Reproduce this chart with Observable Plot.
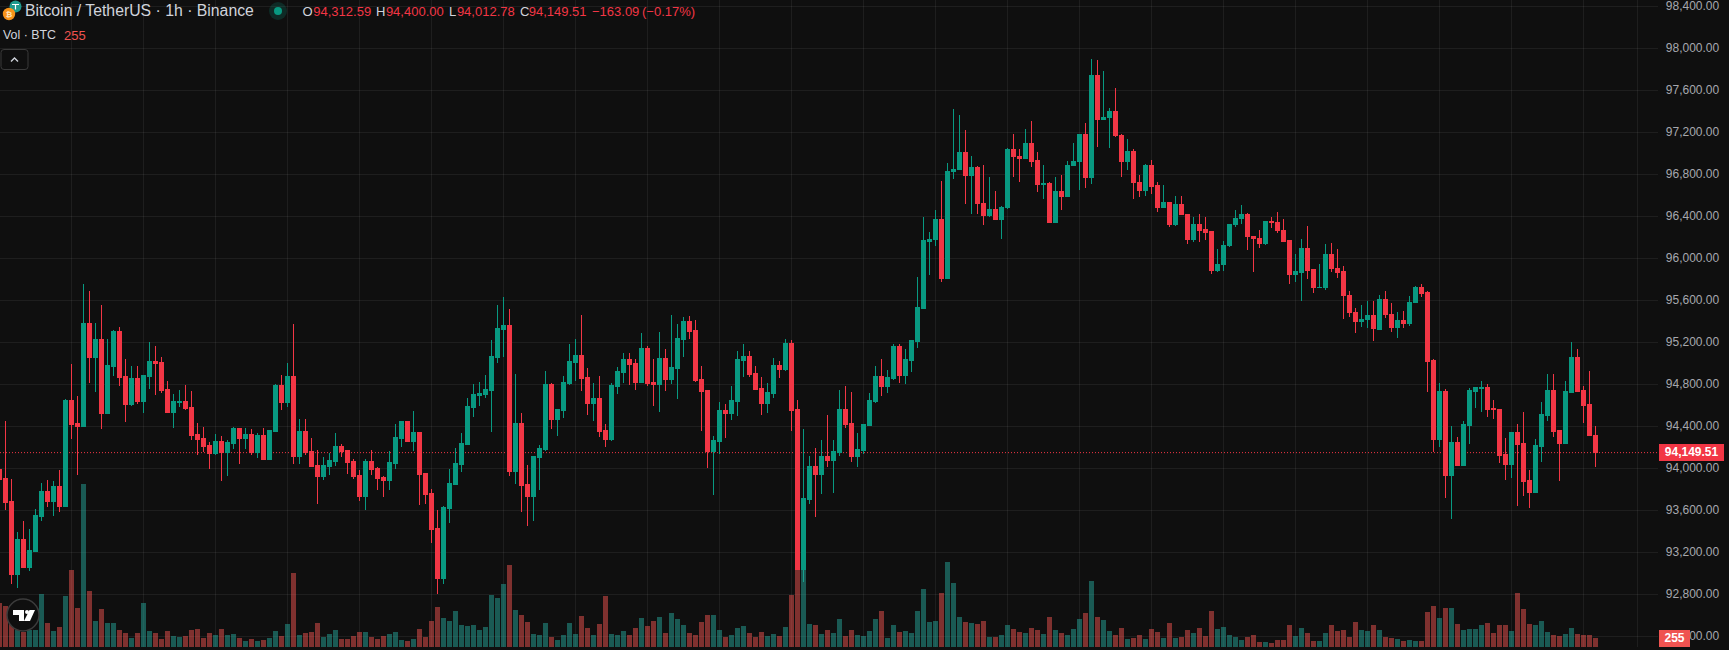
<!DOCTYPE html>
<html><head><meta charset="utf-8">
<script src="https://cdn.jsdelivr.net/npm/d3@7"></script>
<script src="https://cdn.jsdelivr.net/npm/@observablehq/plot@0.6"></script>
<style>
html,body{margin:0;padding:0;background:#0f0f0f;overflow:hidden}
#chart{position:relative;width:1729px;height:650px;background:#0f0f0f;font-family:"Liberation Sans",Arial,sans-serif;overflow:hidden}
#chart svg.plot{position:absolute;left:0;top:0}
.t{position:absolute;white-space:nowrap;line-height:1}
.tag{position:absolute;color:#fff;font-size:12px;font-weight:700;text-align:center}
</style></head><body><div id="chart"></div>
<script>
const opens=[93987,93901,93682,92987,93320,93053,93206,93539,93777,93682,93825,93634,94644,94425,94396,95378,95054,95225,94520,94968,
95301,94873,94606,94854,94635,94873,95016,95006,94749,94530,94625,94635,94577,94320,94282,94215,94139,94254,94149,94234,
94377,94282,94320,94149,94311,94082,94349,94787,94625,94873,94111,94349,94158,94025,93920,94016,94063,94206,94168,94063,
93930,93730,94063,93996,93911,93882,94044,94282,94444,94254,94339,93949,93758,93425,92949,93615,93844,94034,94225,94577,
94692,94701,94739,95054,95320,95358,93968,94425,93844,93730,94101,94177,94796,94463,94549,94806,95006,95073,94863,94616,
94663,94358,94273,94777,94911,95035,94997,94816,95139,94816,94797,95044,94844,94949,95225,95397,95311,94844,94739,94158,
94254,94549,94520,94635,95025,95063,94901,94758,94616,94711,94977,94939,95187,94558,93034,93701,94016,93939,94111,94073,
94149,94558,94425,94111,94168,94406,94635,94873,94777,94854,95158,94882,95025,95206,95517,96164,96174,96374,95803,96822,
96841,97012,96784,96869,96526,96403,96469,96365,96479,97041,96974,96946,97098,96936,96707,96717,96345,96641,96584,96879,
96917,97184,96765,97746,97317,97336,97403,97174,96917,97022,96726,96641,96888,96698,96488,96536,96326,96517,96422,96174,
96326,96279,96260,95888,95936,96117,96317,96374,96422,96212,96193,96136,96355,96345,96269,96174,95850,95869,96098,95898,
95717,95717,96041,95907,95879,95650,95488,95393,95412,95460,95317,95612,95469,95339,95412,95383,95574,95726,95679,95025,
94273,94730,93930,94244,94025,94406,94730,94758,94768,94568,94558,94130,94034,94339,94234,93882,93768,94206,94501,94739,
94358,94234,94720,95054,94739,94606,94312.59];
const highs=[94034,94454,93901,93396,93501,93425,93615,93863,93892,93882,93987,94663,94997,94692,95759,95692,95387,95559,95235,95320,
95349,95044,94977,94977,94882,95206,95168,95063,94835,94711,94749,94797,94739,94435,94396,94254,94330,94311,94273,94396,
94377,94387,94377,94339,94387,94368,94806,94892,95006,95378,94473,94473,94292,94177,94111,94149,94339,94234,94177,94092,
93987,94092,94177,94016,93930,94168,94425,94444,94444,94549,94339,93949,93806,93606,93644,93996,94196,94339,94673,94806,
94825,94892,95225,95559,95635,95520,94901,94530,94034,94120,94225,94930,94816,94558,94882,95187,95235,95463,94958,94816,
94882,94425,94816,94968,95101,95101,95044,95292,95168,95044,95301,95139,95463,95378,95444,95454,95416,94977,94739,94311,
94635,94616,94787,95120,95187,95120,94977,94873,94816,95054,95025,95235,95225,94654,94377,94120,94196,94273,94511,94273,
94749,94787,94730,94339,94415,94720,94977,95044,94939,95187,95187,95139,95216,95825,96393,96250,96460,96736,96907,97422,
97365,97222,96974,96879,96888,96774,96641,96498,97050,97184,97041,97231,97307,97012,96888,96726,96774,96793,96926,97098,
97184,97288,97898,97889,97784,97431,97622,97184,97136,97041,96793,96898,96936,96726,96698,96536,96593,96593,96422,96393,
96422,96393,96260,96088,96164,96326,96460,96507,96431,96212,96269,96355,96393,96441,96374,96174,96041,96184,96307,95898,
95945,96136,96145,96088,95926,95688,95526,95555,95593,95593,95650,95688,95574,95488,95498,95641,95736,95755,95688,95044,
94816,94758,94406,94301,94454,94768,94777,94835,94806,94654,94568,94292,94349,94425,94539,93987,94282,94635,94901,94901,
94368,94835,95206,95139,94787,94930,94400];
const lows=[93844,93606,92901,92863,93053,93025,93206,93501,93634,93549,93587,93634,94282,93939,94396,94816,94730,94377,94520,94882,
94787,94444,94596,94616,94530,94758,94701,94720,94530,94387,94587,94558,94273,94130,94158,93996,94130,93882,93930,94187,
94044,94187,94130,94101,94082,94082,94349,94558,94587,94044,94044,94130,94016,93663,93892,93939,94025,94111,93949,93901,
93692,93606,93939,93796,93730,93796,93996,94206,94254,94168,93654,93663,93292,92806,92901,93482,93844,93968,94225,94492,
94596,94673,94349,95006,95063,93930,93854,93587,93453,93501,93796,94168,94377,94311,94482,94797,94835,94739,94511,94454,
94301,94206,94263,94711,94816,94797,94749,94816,94787,94596,94539,94739,94806,94663,95063,95235,94825,94358,94006,93749,
94139,94292,94463,94501,94873,94873,94749,94511,94530,94673,94863,94930,94358,93034,92920,93663,93539,93758,94016,93768,
94120,94387,94063,94016,94139,94406,94625,94692,94720,94844,94816,94806,94920,95149,95517,95841,96117,95774,95803,96755,
96841,96517,96422,96422,96317,96393,96365,96184,96469,96774,96726,96946,96869,96631,96565,96345,96345,96460,96584,96879,
96650,96669,96707,97060,97317,97050,97155,96774,96841,96565,96584,96593,96612,96441,96488,96298,96307,96412,96136,96155,
96155,96174,95850,95869,95879,96107,96298,96326,96079,95869,96098,96126,96288,96241,96164,95755,95774,95593,95803,95669,
95717,95698,95869,95812,95422,95441,95288,95349,95333,95212,95317,95431,95301,95241,95333,95355,95574,95631,94730,94158,
94206,93720,93520,94025,94025,94234,94577,94539,94492,94473,94054,93892,93911,93644,93739,93625,93768,94063,94454,94301,
93882,94234,94720,94730,94435,94311,94012.78];
const closes=[93892,93676,92987,93320,93053,93215,93549,93777,93682,93825,93634,94644,94415,94396,95378,95054,95225,94520,94977,95301,
94863,94606,94854,94635,94882,95016,94997,94739,94530,94635,94635,94568,94311,94273,94206,94139,94254,94149,94244,94377,
94282,94320,94149,94311,94082,94358,94787,94625,94873,94111,94349,94149,94016,93920,94025,94073,94206,94158,94054,93920,
93730,94063,93987,93901,93882,94054,94292,94444,94254,94339,93939,93749,93415,92949,93625,93854,94044,94234,94587,94701,
94711,94749,95063,95330,95358,93968,94425,93834,93730,94111,94187,94796,94463,94558,94816,95016,95073,94854,94616,94663,
94349,94273,94787,94920,95035,94987,94816,95139,94806,94797,95044,94844,94958,95235,95397,95301,94835,94730,94158,94263,
94549,94520,94644,95035,95063,94892,94749,94616,94720,94977,94939,95187,94549,93034,93711,94016,93939,94111,94073,94158,
94558,94415,94111,94177,94415,94644,94873,94777,94863,95158,94882,95035,95216,95530,96174,96184,96374,95803,96831,96850,
97012,96784,96869,96517,96403,96469,96365,96488,97041,96965,96946,97098,96926,96698,96717,96345,96641,96584,96888,96926,
97184,96765,97746,97317,97346,97403,97165,96917,97022,96717,96641,96888,96688,96488,96536,96326,96517,96412,96174,96326,
96269,96250,95888,95945,96126,96326,96384,96422,96203,96184,96136,96355,96336,96260,96164,95850,95879,96098,95888,95717,
95726,96041,95898,95869,95641,95479,95393,95422,95460,95333,95612,95460,95339,95412,95374,95583,95726,95669,95019,94273,
94730,93930,94244,94025,94415,94739,94768,94768,94558,94558,94120,94034,94339,94225,93873,93768,94215,94511,94739,94349,
94234,94730,95054,94730,94596,94311,94149.51];
const volumes=[1246,1161,1095,481,434,481,481,1501,680,453,566,1444,2181,1104,4616,1586,736,1076,680,680,
481,396,255,396,1246,453,396,227,453,312,283,312,481,510,255,396,340,510,340,368,
255,170,227,170,198,255,453,312,651,2096,340,396,425,680,283,368,481,227,227,312,
425,425,283,227,312,368,425,198,170,227,510,283,736,1133,821,736,1020,623,595,623,
481,566,1473,1388,1784,2322,1048,906,708,368,340,680,283,198,340,680,368,878,538,340,
651,1444,368,340,453,340,538,821,595,736,850,396,963,793,623,396,340,708,906,906,
481,283,340,538,595,396,283,425,312,368,312,566,1473,2181,2181,651,623,368,481,396,
793,312,481,340,312,453,793,1020,255,623,425,453,396,1020,1643,708,736,1529,2407,1812,
850,708,680,651,736,283,283,340,623,510,425,396,538,481,368,850,481,396,340,510,
793,963,1869,850,765,453,340,538,227,255,340,227,510,425,255,680,255,283,481,396,
538,312,1020,510,566,340,283,198,283,340,142,142,113,198,198,623,312,538,396,170,
170,396,623,453,481,283,708,481,453,623,481,283,255,227,170,198,170,170,991,1161,
821,1104,1104,651,481,510,510,623,680,396,623,623,453,1529,1076,651,623,736,425,340,
312,368,538,368,340,340,255];
const priceTicks=[92400,92800,93200,93600,94000,94400,94800,95200,95600,96000,96400,96800,97200,97600,98000,98400];
const timeGridBars=[12,24,36,48,60,72,84,96,108,120,132,144,156,168,180,192,204,216,228,240,252,264,273];
const lastPrice=94149.51;
const title="Bitcoin / TetherUS · 1h · Binance";
const ohlcLabels=["O","H","L","C"];
const ohlcValues=["94,312.59","94,400.00","94,012.78","94,149.51"];
const changeText=["−163.09","(−0.17%)"];
const volumeLabel="Vol · BTC";

const RED="#f23645",GREEN="#089981",GRID="rgba(242,242,242,0.07)";
const candles=opens.map((o,i)=>({i,o,h:highs[i],l:lows[i],c:closes[i],v:volumes[i],col:closes[i]>=o?GREEN:RED,
  vcol:closes[i]>=o?"#26a69a":"#ef5350"}));
const W=1729,H=650,FR=1658;
const xOpt={domain:[1/12,FR/6+1/12],range:[0,FR],axis:null};
const priceFmt=d3.format(",.2f");

const price=Plot.plot({width:W,height:H,marginLeft:0,marginRight:W-FR,marginTop:0,marginBottom:3,
  style:{background:"transparent",fontFamily:'"Liberation Sans",Arial,sans-serif',fontSize:"12px"},
  x:xOpt,y:{domain:[92400,98400],range:[636.33,6.33],axis:null},
  marks:[
    Plot.ruleY(priceTicks,{stroke:GRID,strokeWidth:1,shapeRendering:"crispEdges",dy:-0.5}),
    Plot.ruleX(timeGridBars,{stroke:GRID,strokeWidth:1,shapeRendering:"crispEdges",dx:-0.5}),
    Plot.ruleY([lastPrice],{stroke:RED,strokeWidth:1,strokeDasharray:"1,2",dy:-0.5}),
    Plot.ruleX(candles,{x:"i",y1:"l",y2:"h",stroke:"col",strokeWidth:1,shapeRendering:"crispEdges",dx:-0.5}),
    Plot.rect(candles,{x1:d=>d.i-5/12,x2:d=>d.i+5/12,y1:d=>Math.min(d.o,d.c)-4,y2:d=>Math.max(d.o,d.c)+4,fill:"col",shapeRendering:"crispEdges"}),
    Plot.axisY(priceTicks,{anchor:"right",tickSize:0,tickPadding:60.7,textAnchor:"end",tickFormat:priceFmt,fill:"#a6a8ae",label:null,dy:-0.5})
  ]});
const volume=Plot.plot({width:W,height:H,marginLeft:0,marginRight:W-FR,marginTop:0,marginBottom:3,
  style:{background:"transparent"},
  x:xOpt,y:{domain:[0,5000],range:[647,647-5000/28.33],axis:null},
  marks:[
    Plot.rectY(candles,{x1:d=>d.i-5/12,x2:d=>d.i+5/12,y1:0,y2:"v",fill:"vcol",fillOpacity:0.5,shapeRendering:"crispEdges"})
  ]});
price.classList.add("plot");volume.classList.add("plot");
const root=document.getElementById("chart");
root.append(price,volume);

function txt(s,x,y,size,color,extra){const e=document.createElement("div");e.className="t";e.textContent=s;
  e.style.cssText+=`;left:${x}px;top:${y}px;font-size:${size}px;color:${color};`+(extra||"");root.append(e);return e;}
txt(title,25,3,15.8,"#d1d4dc");
const lx=[302.5,376,449,520],vx=[313.3,385.9,456.9,528.7];
ohlcLabels.forEach((k,i)=>{txt(k,lx[i],4.5,13,"#d1d4dc");txt(ohlcValues[i],vx[i],4.5,13,RED);});
txt(changeText[0],592,4.5,13,RED);txt(changeText[1],642,4.5,13,RED);
txt(volumeLabel,3,28.5,12.4,"#d1d4dc");txt(String(volumes[volumes.length-1]),64,28.5,13,"#ef5350");

const svgNS=`<svg xmlns="http://www.w3.org/2000/svg" width="${W}" height="${H}" style="position:absolute;left:0;top:0">
<circle cx="15.5" cy="6.5" r="6" fill="#1f9a8e"/><path d="M12 4.5h7M15.5 4.5v5" stroke="#fff" stroke-width="1.2"/>
<circle cx="9" cy="14" r="6.2" fill="#f7931a"/><text x="9" y="17" font-size="8" font-weight="700" fill="#ffe3b8" text-anchor="middle" font-family="Liberation Sans">₿</text>
<circle cx="278" cy="11" r="9" fill="#089981" opacity="0.2"/><circle cx="278" cy="11" r="4" fill="#089981"/>
<rect x="1" y="49.5" width="27" height="20" rx="3" fill="#0f0f0f" stroke="#3a3a3a"/>
<path d="M11 61.5l3.5-3.5 3.5 3.5" fill="none" stroke="#d1d4dc" stroke-width="1.4"/>
<circle cx="23" cy="615" r="16" fill="#0f0f0f" stroke="#3c3c3c" stroke-width="1.5"/>
<path d="M13 610h11v11h-5v-6h-6z" fill="#fff"/><circle cx="27" cy="612" r="2" fill="#fff"/><path d="M29.5 610h5.5l-5 11h-6z" fill="#fff"/>
</svg>`;
const ov=document.createElement("div");ov.innerHTML=svgNS;root.append(ov);

function tag(s,x,y,w,h,bg){const e=document.createElement("div");e.className="tag";e.textContent=s;
  e.style.cssText+=`;left:${x}px;top:${y}px;width:${w}px;height:${h}px;line-height:${h}px;background:${bg}`;root.append(e);}
tag(priceFmt(lastPrice),1659,444,65,17,RED);
tag(String(volumes[volumes.length-1]),1659,630,31,17,"#ef5350");
</script></body></html>
